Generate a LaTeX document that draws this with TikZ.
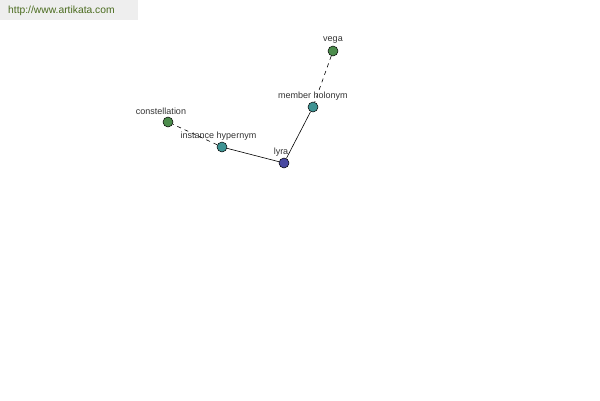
\documentclass[tikz,border=0pt]{standalone}
\usepackage{fontspec}
\setmainfont{Liberation Sans}
\definecolor{hdrbg}{HTML}{EEEEEE}
\definecolor{hdrtext}{HTML}{4A6B1E}
\definecolor{ngreen}{HTML}{4C8C4C}
\definecolor{nteal}{HTML}{3E9393}
\definecolor{nblue}{HTML}{4848A0}
\definecolor{lbl}{HTML}{333333}
\begin{document}
\begin{tikzpicture}[x=1pt,y=-1pt,
  dot/.style={circle,draw=black,line width=0.5pt,minimum size=10pt,inner sep=0pt},
  lab/.style={font=\fontsize{9}{10}\selectfont,text=lbl,inner sep=0pt},
  link/.style={line width=0.6pt,black},
  dlink/.style={line width=0.6pt,black,dash pattern=on 4pt off 4pt}]
\useasboundingbox (0,0) rectangle (600,400);
\fill[hdrbg] (0,0) rectangle (138,20);
\node[font=\fontsize{10.3}{12}\selectfont,text=hdrtext,anchor=west,inner sep=0pt] (url) at (8,11) {http://www.artikata.com};
\node[dot,fill=ngreen] (vega) at (333,51) {};
\node[dot,fill=nteal] (mh) at (313,107) {};
\node[dot,fill=nblue] (lyra) at (284,163) {};
\node[dot,fill=nteal] (ih) at (222,147) {};
\node[dot,fill=ngreen] (con) at (168,122) {};
\draw[dlink] (vega) -- (mh);
\draw[link] (mh) -- (lyra);
\draw[link] (lyra) -- (ih);
\draw[dlink] (ih) -- (con);
\node[lab] (lvega) at (333,40) {vega};
\node[lab] (lmh) at (313,96) {member holonym};
\node[lab] (llyra) at (281,152) {lyra};
\node[lab] (lih) at (218.5,136) {instance hypernym};
\node[lab] (lcon) at (161,111) {constellation};
\end{tikzpicture}
\end{document}
